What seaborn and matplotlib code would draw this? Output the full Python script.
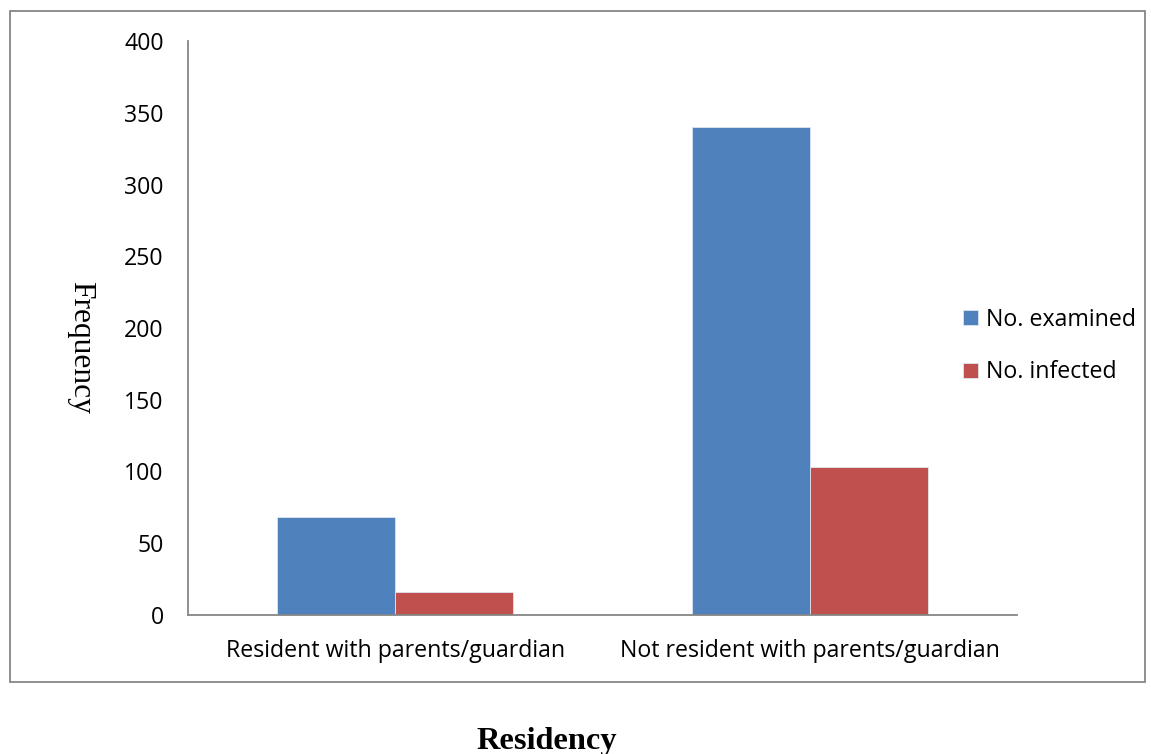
import matplotlib
matplotlib.use("Agg")
import matplotlib.pyplot as plt
import seaborn as sns
import pandas as pd
from matplotlib.patches import Rectangle

categories = ["Resident with parents/guardian", "Not resident with parents/guardian"]
series_names = ["No. examined", "No. infected"]
examined = [68, 340]
infected = [16, 103]
y_ticks = [0, 50, 100, 150, 200, 250, 300, 350, 400]

df = pd.DataFrame({
    "Residency": categories * 2,
    "Series": [series_names[0]] * 2 + [series_names[1]] * 2,
    "Frequency": examined + infected,
})

sns.set_theme(style="white")
plt.rcParams["font.family"] = ["Open Sans", "DejaVu Sans"]
plt.rcParams["text.color"] = "black"

W, H = 1151, 754
fig = plt.figure(figsize=(W / 100, H / 100), dpi=100)
ax = fig.add_axes([188 / W, 1 - 615 / H, (1017 - 188) / W, (615 - 41) / H])

palette = {series_names[0]: "#4F81BD", series_names[1]: "#C0504D"}
sns.barplot(data=df, x="Residency", y="Frequency", hue="Series", palette=palette,
            width=0.57, ax=ax, edgecolor="#dfe6ef", linewidth=0.6, saturation=1)

gray = "#868686"
fs = 16.7
ax.set_ylim(0, 400)
ax.set_xlim(-0.5, 1.5)
ax.set_yticks(y_ticks)
ax.set_yticklabels([str(v) for v in y_ticks])
for s in ["top", "right"]:
    ax.spines[s].set_visible(False)
for s in ["left", "bottom"]:
    ax.spines[s].set_color(gray)
    ax.spines[s].set_linewidth(1.3)

ax.tick_params(axis="y", which="major", direction="out", length=4.5, width=1.3,
               color=gray, pad=13, labelsize=fs, labelcolor="black")
ax.tick_params(axis="x", which="major", length=0, pad=17, labelsize=fs, labelcolor="black")
ax.set_xticks([-0.5, 0.5, 1.5], minor=True)
ax.tick_params(axis="x", which="minor", direction="out", length=4.5, width=1.3, color=gray)
ax.set_xlabel("")
ax.set_ylabel("")

leg = ax.legend(loc="center left", frameon=False, fontsize=fs,
                handlelength=0.65, handleheight=0.65, handletextpad=0.35,
                labelspacing=1.25, borderaxespad=0, borderpad=0)
leg.set_bbox_to_anchor((963 / W, 1 - 346 / H), transform=fig.transFigure)
for t in leg.get_texts():
    t.set_color("black")

fig.text(81 / W, 1 - 347 / H, "Frequency", rotation=-90, ha="center", va="center",
         fontsize=22.7, color="black", family=["Liberation Serif"])
fig.text(547 / W, 1 - 741 / H, "Residency", ha="center", va="center",
         fontsize=23.3, fontweight="bold", color="black", family=["Liberation Serif"])

fig.patches.append(Rectangle((9.5 / W, 1 - 682 / H), (1145 - 9.5) / W, (682 - 11) / H,
                             transform=fig.transFigure, fill=False, edgecolor=gray,
                             linewidth=1.3))

fig.savefig("out.png", dpi=100)
